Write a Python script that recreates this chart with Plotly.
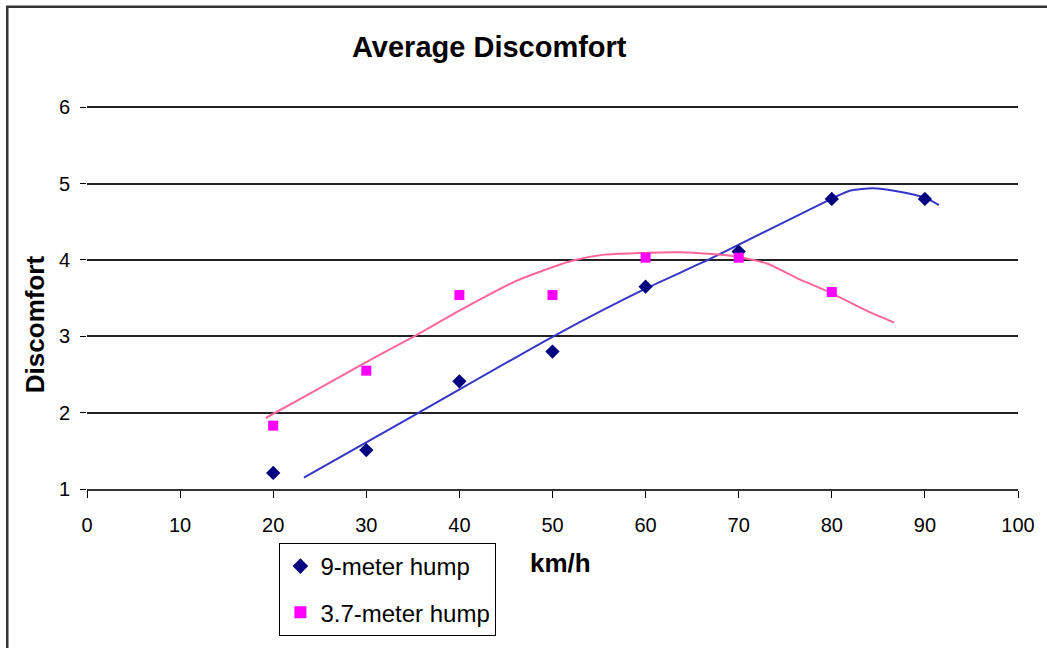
import plotly.graph_objects as go

# ---- data ----
speed = [20, 30, 40, 50, 60, 70, 80, 90]
hump9 = [1.21, 1.51, 2.41, 2.80, 3.65, 4.11, 4.80, 4.80]

speed37 = [20, 30, 40, 50, 60, 70, 80]
hump37 = [1.83, 2.55, 3.54, 3.54, 4.03, 4.03, 3.58]

# trend curves as drawn in the reference
trend9_x = [23.3, 35.65, 50.1, 60.1, 66.7, 80.1, 82.0, 84.4, 87.0, 90.1, 91.5]
trend9_y = [1.15, 2.0, 3.0, 3.63, 4.0, 4.81, 4.91, 4.94, 4.90, 4.81, 4.72]

trend37_x = [19.2, 23.5, 29.8, 35.3, 39.9, 46.0, 48.5, 52.1, 55.6, 59.2, 63.8,
             66.7, 69.9, 73.1, 76.3, 79.9, 83.5, 86.7]
trend37_y = [1.93, 2.22, 2.65, 3.01, 3.33, 3.72, 3.84, 3.99, 4.07, 4.09, 4.10,
             4.08, 4.04, 3.95, 3.76, 3.57, 3.35, 3.18]

x_ticks = list(range(0, 101, 10))
y_ticks = [1, 2, 3, 4, 5, 6]

FONT = "Liberation Sans, Arial, sans-serif"

fig = go.Figure()

fig.add_trace(go.Scatter(x=trend9_x, y=trend9_y, mode="lines",
                         line=dict(color="#3535C8", width=2, shape="spline", smoothing=0.6),
                         showlegend=False, hoverinfo="skip"))
fig.add_trace(go.Scatter(x=trend37_x, y=trend37_y, mode="lines",
                         line=dict(color="#FF6699", width=2, shape="spline", smoothing=0.6),
                         showlegend=False, hoverinfo="skip"))

fig.add_trace(go.Scatter(x=speed, y=hump9, mode="markers", name="9-meter hump",
                         legendgroup="a",
                         marker=dict(symbol="diamond", size=11, color="#000080")))
fig.add_trace(go.Scatter(x=speed37, y=hump37, mode="markers", name="3.7-meter hump",
                         legendgroup="b",
                         marker=dict(symbol="square", size=10, color="#FF00FF")))

W, H = 1047, 648
L, R = 87, 26
Y6_PX, Y1_PX = 107, 496   # pixel targets for y=6 and y=1
YMAX = 6.03
unit = (Y1_PX - Y6_PX) / 5.0
T = int(round(Y6_PX - (YMAX - 6) * unit))
B = H - Y1_PX
pw, ph = W - L - R, H - T - B


def px(x):
    return (x - L) / pw


def py(y):
    return (H - B - y) / ph


fig.update_layout(
    width=W, height=H,
    margin=dict(l=L, r=R, t=T, b=B),
    paper_bgcolor="white", plot_bgcolor="white",
    font=dict(family=FONT, color="black"),
    showlegend=True,
    legend=dict(x=px(280), y=py(551), xanchor="left", yanchor="top",
                bordercolor="black", borderwidth=1, bgcolor="white",
                font=dict(size=24, family=FONT), traceorder="grouped",
                tracegroupgap=12, itemsizing="constant"),
    xaxis=dict(range=[0, 100], tickvals=x_ticks, ticks="outside", ticklen=7,
               tickcolor="black", showline=True, linecolor="#333", linewidth=2,
               showgrid=False, zeroline=False, tickfont=dict(size=20),
               ticklabelstandoff=10),
    yaxis=dict(range=[1, YMAX], tickvals=y_ticks, ticks="outside", ticklen=6,
               tickcolor="black", showline=False, showgrid=True,
               gridcolor="#222", gridwidth=1.5, zeroline=False,
               tickfont=dict(size=20), ticklabelstandoff=6),
    annotations=[
        dict(text="<b>Average Discomfort</b>", x=px(491), y=py(46), xref="paper",
             yref="paper", showarrow=False, font=dict(size=29, family=FONT),
             xanchor="center", yanchor="middle"),
        dict(text="<b>Discomfort</b>", x=px(35), y=py(328), xref="paper", yref="paper",
             showarrow=False, textangle=-90, font=dict(size=26, family=FONT),
             xanchor="center", yanchor="middle"),
        dict(text="<b>km/h</b>", x=px(562), y=py(571), xref="paper", yref="paper",
             showarrow=False, font=dict(size=26, family=FONT),
             xanchor="center", yanchor="middle"),
    ],
    shapes=[
        dict(type="rect", xref="paper", yref="paper", x0=px(7), x1=px(1060),
             y0=py(5), y1=py(700), line=dict(color="#333", width=2.5),
             fillcolor="rgba(0,0,0,0)", layer="below"),
    ],
)

fig.write_html("out.html")
